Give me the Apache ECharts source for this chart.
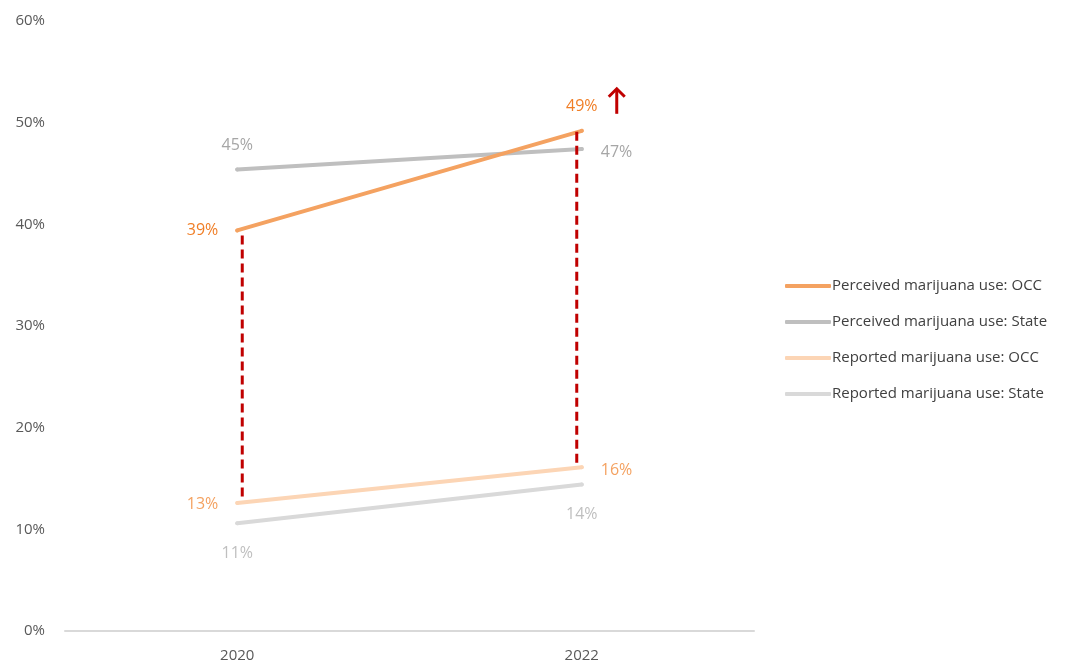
<!DOCTYPE html>
<html>
<head>
<meta charset="utf-8">
<script src="https://cdn.jsdelivr.net/npm/echarts@6/dist/echarts.min.js"></script>
<style>
  html, body { margin: 0; padding: 0; background: #fff; }
  #main { width: 1080px; height: 665px; }
</style>
</head>
<body>
<div id="main"></div>
<script>
var years = ['2020', '2022'];
var perceivedOcc = [39.4, 49.2];
var perceivedState = [45.4, 47.4];
var reportedOcc = [12.6, 16.1];
var reportedState = [10.6, 14.4];
var seriesNames = [
    'Perceived marijuana use: OCC',
    'Perceived marijuana use: State',
    'Reported marijuana use: OCC',
    'Reported marijuana use: State'
];
var yTicks = [0, 10, 20, 30, 40, 50, 60];

var font = 'Open Sans';

// label placement for each point: [2020, 2022]
function pts(values, color, places) {
    return values.map(function (v, i) {
        var p = places[i];
        return {
            value: v,
            label: {
                show: true,
                position: p.pos,
                distance: p.d,
                offset: p.off || [0, 0],
                color: color,
                fontSize: 16,
                fontFamily: font,
                formatter: function (o) { return Math.round(o.value) + '%'; }
            }
        };
    });
}

function lineSeries(name, values, color, labelColor, places, z) {
    return {
        name: name,
        type: 'line',
        data: pts(values, labelColor, places),
        symbol: 'circle',
        symbolSize: 4,
        z: z,
        lineStyle: { color: color, width: 4, cap: 'round' },
        itemStyle: { color: color }
    };
}

var chart = echarts.init(document.getElementById('main'));
var option = {
    animation: false,
    grid: { left: 65, right: 326, top: 21, bottom: 34 },
    legend: {
        orient: 'vertical',
        left: 780,
        top: 272,
        icon: 'roundRect',
        itemWidth: 46,
        itemHeight: 4,
        itemGap: 18,
        data: seriesNames,
        textStyle: { color: '#404040', fontSize: 15, fontFamily: font, padding: [0, 0, 0, -4], lineHeight: 18 }
    },
    xAxis: {
        type: 'category',
        data: years,
        boundaryGap: true,
        axisLine: { lineStyle: { color: '#D9D9D9', width: 2 } },
        axisTick: { show: false },
        axisLabel: { color: '#595959', fontSize: 15, fontFamily: font, margin: 17 }
    },
    yAxis: {
        type: 'value',
        min: yTicks[0],
        max: yTicks[yTicks.length - 1],
        interval: 10,
        splitLine: { show: false },
        axisLine: { show: false },
        axisTick: { show: false },
        axisLabel: { color: '#595959', fontSize: 15, fontFamily: font, margin: 20, formatter: '{value}%' }
    },
    series: [
        lineSeries(seriesNames[0], perceivedOcc, '#F4A261', '#F07E26',
            [{ pos: 'left', d: 17 }, { pos: 'top', d: 14 }], 4),
        lineSeries(seriesNames[1], perceivedState, '#BFBFBF', '#A6A6A6',
            [{ pos: 'top', d: 14 }, { pos: 'right', d: 17, off: [0, 3] }], 3),
        lineSeries(seriesNames[2], reportedOcc, '#FCD5B5', '#F4A261',
            [{ pos: 'left', d: 17, off: [0, 2] }, { pos: 'right', d: 17, off: [0, 3] }], 2),
        lineSeries(seriesNames[3], reportedState, '#D9D9D9', '#BFBFBF',
            [{ pos: 'bottom', d: 20 }, { pos: 'bottom', d: 20 }], 1),
        {
            // red dashed gap markers between perceived and reported OCC
            type: 'custom',
            z: 5,
            data: years.map(function (y, i) { return [i, perceivedOcc[i], reportedOcc[i]]; }),
            renderItem: function (params, api) {
                var top = api.coord([api.value(0), api.value(1)]);
                var bot = api.coord([api.value(0), api.value(2)]);
                var dx = params.dataIndex === 0 ? 5 : -5;
                var pad = params.dataIndex === 0 ? 5 : 1;
                return {
                    type: 'line',
                    shape: { x1: top[0] + dx, y1: top[1] + pad, x2: bot[0] + dx, y2: bot[1] - pad },
                    style: { stroke: '#C00000', lineWidth: 3, lineDash: [9, 5] }
                };
            }
        }
    ]
};
chart.setOption(option);

// up arrow next to the 2022 OCC value
var p = chart.convertToPixel({ seriesIndex: 0 }, [1, perceivedOcc[1]]);
var ax = p[0] + 35;
chart.setOption({
    graphic: [{
        type: 'group',
        children: [
            { type: 'line', shape: { x1: ax, y1: p[1] - 17, x2: ax, y2: p[1] - 41 },
              style: { stroke: '#C00000', lineWidth: 3 } },
            { type: 'polyline', shape: { points: [[ax - 8, p[1] - 34], [ax, p[1] - 42], [ax + 8, p[1] - 34]] },
              style: { stroke: '#C00000', lineWidth: 3, fill: null } }
        ]
    }]
});
</script>
</body>
</html>
